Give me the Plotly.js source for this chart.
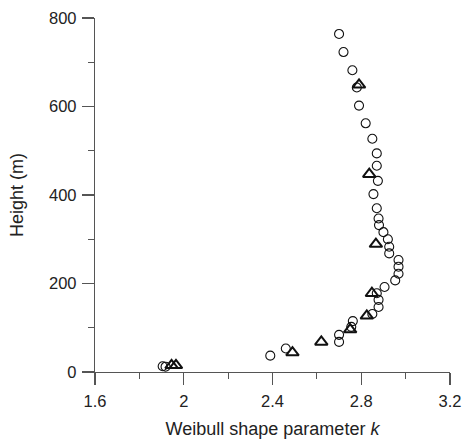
<!DOCTYPE html>
<html>
<head>
<meta charset="utf-8">
<script src="https://cdn.plot.ly/plotly-3.0.1.min.js"></script>
<style>html,body{margin:0;padding:0;background:#fff}#chart{width:467px;height:440px}</style>
</head>
<body>
<div id="chart"></div>
<script>
// Open circles series
const circleK = [2.70, 2.72, 2.76, 2.78, 2.79, 2.82, 2.85, 2.87, 2.87, 2.875, 2.855, 2.87, 2.878, 2.88, 2.90, 2.92, 2.926, 2.926, 2.968, 2.968, 2.968, 2.953, 2.905, 2.87, 2.878, 2.878, 2.85, 2.762, 2.755, 2.70, 2.70, 2.46, 2.39, 1.905, 1.918];
const circleH = [764, 723, 682, 643, 602, 562, 527, 494, 466, 432, 402, 370, 347, 332, 316, 300, 283, 268, 253, 238, 222, 207, 192, 178, 163, 147, 131, 115, 102, 84, 68, 53, 37, 13, 12];
// Open triangles series
const triK = [2.79, 2.836, 2.866, 2.848, 2.825, 2.75, 2.62, 2.49, 1.945, 1.965];
const triH = [649, 447, 289, 178, 127, 96, 68, 44, 15, 15];
// Axis ticks
const xTicks = [1.6, 2.0, 2.4, 2.8, 3.2];
const xTickText = ['1.6', '2', '2.4', '2.8', '3.2'];
const yTicks = [0, 200, 400, 600, 800];
const yTickText = ['0', '200', '400', '600', '800'];

const font = 'Liberation Sans, Arial, Helvetica, sans-serif';
const traces = [
  {x: circleK, y: circleH, type: 'scatter', mode: 'markers', cliponaxis: false,
   marker: {symbol: 'circle-open', size: 9, color: '#111', line: {width: 1.1, color: '#111'}}, showlegend: false},
  {x: triK, y: triH, type: 'scatter', mode: 'markers', cliponaxis: false,
   marker: {symbol: 'triangle-up-open', size: 11, color: '#111', line: {width: 2, color: '#111'}}, showlegend: false}
];
const layout = {
  width: 467, height: 440,
  margin: {l: 95, r: 17, t: 18, b: 68},
  paper_bgcolor: '#fff', plot_bgcolor: '#fff',
  font: {family: font, color: '#222', size: 16},
  xaxis: {
    range: [1.6, 3.2], tickvals: xTicks, ticktext: xTickText,
    showgrid: false, zeroline: false, showline: true, linecolor: '#555', linewidth: 1.2,
    ticks: 'outside', ticklen: 12, tickwidth: 1.2, tickcolor: '#555',
    minor: {dtick: 0.2, ticks: 'outside', ticklen: 6, tickwidth: 1.2, tickcolor: '#555', showgrid: false},
    tickfont: {size: 16.5, family: font, color: '#222'},
    ticklabelstandoff: 2,
    title: {text: 'Weibull shape parameter <i>k</i>', font: {size: 18, family: font, color: '#222'}, standoff: 13}
  },
  yaxis: {
    range: [0, 800], tickvals: yTicks, ticktext: yTickText,
    showgrid: false, zeroline: false, showline: true, linecolor: '#555', linewidth: 1.2,
    ticks: 'outside', ticklen: 12, tickwidth: 1.2, tickcolor: '#555',
    minor: {dtick: 100, ticks: 'outside', ticklen: 6, tickwidth: 1.2, tickcolor: '#555', showgrid: false},
    tickfont: {size: 16.5, family: font, color: '#222'},
    ticklabelstandoff: 2,
    title: {text: 'Height (m)', font: {size: 18, family: font, color: '#222'}, standoff: 20}
  }
};
Plotly.newPlot('chart', traces, layout, {displayModeBar: false, staticPlot: true});
</script>
</body>
</html>
